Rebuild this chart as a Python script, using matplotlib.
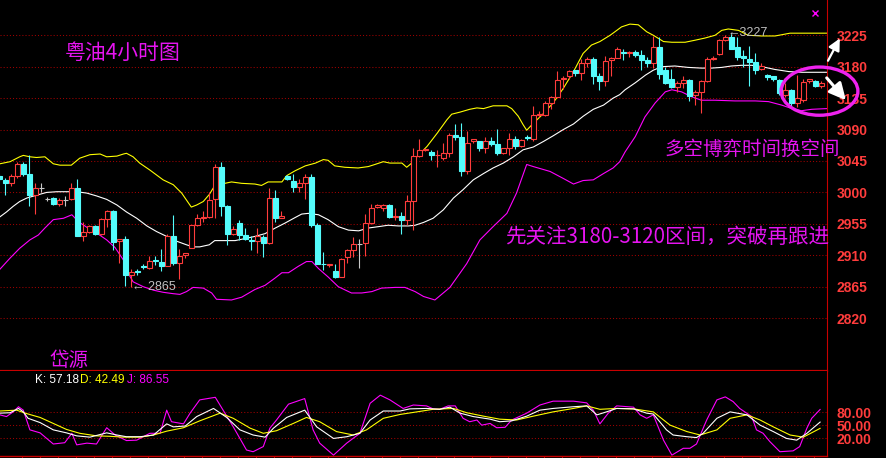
import numpy as np
import matplotlib
matplotlib.use('Agg')
import matplotlib.pyplot as plt
from matplotlib.patches import Ellipse
from matplotlib.ticker import FormatStrFormatter

# 4h candles (oldest -> newest)
opens = [3024, 3018, 3014, 3024, 3041, 3026, 2996, 3007, 2990, 2992,
         2983, 2989, 2990, 3007, 2938, 2944, 2952, 2941, 2962, 2974,
         2930, 2933, 2882, 2887, 2894, 2892, 2903, 2901, 2895, 2938,
         2899, 2910, 2921, 2953, 2964, 2965, 2990, 3037, 2980, 2941,
         2956, 2939, 2932, 2930, 2936, 2927, 2992, 2964, 3023, 3016,
         3008, 3014, 3022, 2953, 2898, 2896, 2888, 2879, 2907, 2917,
         2926, 2927, 2956, 2979, 2977, 2982, 2965, 2966, 2960, 2987,
         3052, 3061, 3058, 3053, 3049, 3057, 3082, 3079, 3031, 3073,
         3074, 3064, 3074, 3070, 3057, 3064, 3076, 3067, 3079, 3077,
         3111, 3111, 3128, 3136, 3162, 3166, 3175, 3171, 3186, 3191,
         3166, 3160, 3189, 3193, 3201, 3200, 3201, 3197, 3189, 3186,
         3208, 3175, 3162, 3151, 3156, 3161, 3139, 3144, 3159, 3191,
         3198, 3218, 3223, 3208, 3195, 3191, 3187, 3176, 3168, 3166,
         3161, 3139, 3146, 3128, 3133, 3159, 3160, 3152]
highs = [3026, 3020, 3027, 3044, 3044, 3053, 3013, 3014, 2994, 2993,
         2992, 2995, 3014, 3019, 2958, 2953, 2953, 2963, 2975, 2975,
         2934, 2937, 2891, 2891, 2898, 2909, 2909, 2919, 2941, 2968,
         2919, 2913, 2954, 2969, 2973, 3000, 3040, 3043, 2982, 2952,
         2961, 2949, 2937, 2949, 2939, 3007, 3003, 2973, 3025, 3026,
         3019, 3026, 3026, 2956, 2915, 2898, 2898, 2906, 2919, 2936,
         2933, 2969, 2983, 2983, 2983, 2983, 2977, 2972, 2996, 3063,
         3076, 3062, 3061, 3061, 3071, 3085, 3098, 3100, 3088, 3077,
         3074, 3079, 3080, 3091, 3064, 3085, 3081, 3076, 3082, 3124,
         3116, 3131, 3138, 3174, 3166, 3175, 3175, 3191, 3194, 3194,
         3171, 3195, 3194, 3208, 3205, 3203, 3204, 3204, 3194, 3224,
         3223, 3180, 3176, 3160, 3167, 3162, 3147, 3161, 3194, 3195,
         3219, 3225, 3227, 3223, 3204, 3210, 3199, 3185, 3170, 3167,
         3162, 3156, 3148, 3168, 3163, 3163, 3161, 3159]
lows = [3016, 2997, 3009, 3020, 3023, 2980, 2969, 3001, 2987, 2982,
        2980, 2981, 2989, 2937, 2930, 2942, 2939, 2939, 2950, 2918,
        2899, 2866, 2865, 2882, 2890, 2891, 2896, 2888, 2894, 2896,
        2876, 2906, 2920, 2952, 2958, 2963, 2964, 2966, 2925, 2939,
        2932, 2932, 2917, 2913, 2907, 2926, 2957, 2963, 3018, 3000,
        3001, 2991, 2950, 2897, 2889, 2893, 2878, 2879, 2899, 2907,
        2892, 2909, 2955, 2977, 2974, 2964, 2961, 2941, 2953, 2946,
        3051, 3060, 3046, 3037, 3047, 3051, 3075, 3024, 3027, 3071,
        3060, 3057, 3066, 3054, 3055, 3053, 3062, 3065, 3075, 3073,
        3108, 3109, 3120, 3136, 3148, 3163, 3166, 3161, 3180, 3155,
        3146, 3152, 3166, 3192, 3189, 3194, 3194, 3175, 3180, 3178,
        3163, 3155, 3150, 3144, 3150, 3131, 3125, 3113, 3158, 3189,
        3197, 3217, 3205, 3190, 3179, 3152, 3170, 3175, 3161, 3160,
        3139, 3136, 3123, 3123, 3130, 3157, 3151, 3150]
closes = [3019, 3014, 3023, 3041, 3026, 2996, 3007, 3007, 2990, 2983,
          2989, 2989, 3007, 2938, 2944, 2952, 2941, 2962, 2973, 2929,
          2933, 2882, 2886, 2886, 2893, 2902, 2902, 2895, 2938, 2899,
          2909, 2913, 2953, 2963, 2965, 2989, 3037, 2980, 2941, 2948,
          2939, 2933, 2931, 2937, 2927, 2992, 2964, 2966, 3019, 3008,
          3013, 3022, 2953, 2898, 2897, 2898, 2879, 2905, 2917, 2926,
          2926, 2956, 2977, 2982, 2982, 2965, 2966, 2960, 2987, 3052,
          3061, 3062, 3054, 3054, 3057, 3082, 3079, 3031, 3071, 3077,
          3064, 3073, 3070, 3057, 3063, 3076, 3066, 3075, 3078, 3111,
          3112, 3128, 3136, 3161, 3164, 3174, 3171, 3186, 3191, 3166,
          3160, 3188, 3192, 3205, 3200, 3201, 3197, 3189, 3185, 3208,
          3170, 3157, 3151, 3156, 3161, 3138, 3144, 3159, 3191, 3192,
          3218, 3223, 3206, 3194, 3192, 3187, 3175, 3181, 3165, 3162,
          3142, 3146, 3128, 3135, 3158, 3163, 3152, 3157]

# bollinger bands (x in candle index)
upper_x = [0.1, 1.8, 3.4, 4, 5.1, 6.2, 7.6, 9, 10.1, 12, 13.4, 15.1, 16.8, 17.9, 19.6,
           20.7, 21.2, 22.3, 23.4, 25.1, 27.3, 29, 30.4, 31.2, 32, 32.9, 34, 35, 35.5, 36.2,
           37.6, 38.7, 40.4, 42.6, 43.7, 44.8, 47.1, 47.9, 49.3, 51, 52.7, 54, 54.8, 55.9, 57.6,
           59.8, 61.5, 62.6, 64, 65.1, 67.1, 67.9, 68.6, 69.6, 71.3, 73, 74.6, 75.4, 76.8, 78.4,
           79.6, 80.7, 82.3, 84.6, 85.4, 86.5, 87.3, 87.9, 89, 90.7, 92.3, 94, 95.7, 97.3, 98.7,
           100.1, 101.8, 102.6, 103.7, 105.1, 106.5, 107.9, 109, 110.7, 112.1, 114.3, 116, 117.6,
           119.3, 120.4, 121.5, 123.2, 124.8, 127, 129.3, 131.8, 134.3, 137.9]
upper = [3041, 3044, 3051, 3053, 3051, 3050, 3051, 3041, 3039, 3039, 3049, 3054, 3055, 3051, 3052,
         3055, 3056, 3051, 3042, 3032, 3018, 3011, 2999, 2989, 2979, 2982, 2987, 2997, 3004, 3014,
         3013, 3015, 3013, 3012, 3010, 3015, 3015, 3024, 3031, 3038, 3042, 3047, 3046, 3038, 3036,
         3035, 3037, 3040, 3044, 3042, 3042, 3036, 3041, 3051, 3066, 3085, 3104, 3112, 3115, 3119,
         3121, 3120, 3124, 3124, 3120, 3109, 3097, 3089, 3099, 3113, 3128, 3149, 3173, 3199, 3211,
         3216, 3225, 3230, 3237, 3241, 3240, 3230, 3225, 3216, 3215, 3215, 3218, 3221,
         3225, 3232, 3234, 3232, 3225, 3224, 3224, 3228, 3228, 3228]
mid_x = [0.1, 1.2, 2.3, 3.4, 4.6, 6.2, 7.9, 9.6, 11.2, 12.9, 14.6, 16.2, 17.9, 19.6, 21.2,
         22.9, 24.6, 26.2, 27.9, 29.6, 31.2, 32.3, 33.4, 35, 35.9, 37.6, 39.3, 41, 42.6, 44.3,
         46, 47.6, 49.3, 50.4, 51.5, 53.2, 54.8, 56.5, 58.2, 59.9, 61.5, 63.2, 64.8, 66.5, 68.2,
         69.3, 70.7, 72.3, 74, 75.7, 77.3, 79, 80.7, 82.3, 84, 85.7, 87.3, 89, 90.7, 92.3,
         94, 95.7, 97.3, 99, 100.7, 102.3, 103.4, 104.3, 106, 107.7, 109, 110.4, 112.6, 114.8, 117,
         118.7, 120.4, 122, 123.7, 125.4, 127.1, 129.3, 131.6, 133.8, 137.9]
mid = [2965, 2972, 2980, 2987, 2992, 2996, 3000, 3001, 3001, 3001, 2999, 2995, 2990, 2982, 2972,
       2963, 2952, 2944, 2937, 2930, 2925, 2922, 2922, 2925, 2931, 2931, 2931, 2934, 2937, 2941,
       2949, 2956, 2964, 2969, 2970, 2968, 2961, 2951, 2946, 2945, 2949, 2951, 2953, 2952, 2952,
       2953, 2957, 2963, 2975, 2992, 3004, 3018, 3027, 3035, 3042, 3051, 3061, 3065, 3073, 3081,
       3090, 3098, 3109, 3119, 3125, 3135, 3140, 3147, 3157, 3168, 3175, 3180, 3181, 3179, 3178,
       3178, 3179, 3181, 3182, 3182, 3180, 3176, 3173, 3172, 3172]
lower_x = [0.1, 1.8, 3.4, 5.1, 6.5, 7.6, 9, 10.7, 12.1, 13.2, 14.6, 16.2, 17.9, 19.3, 20.7,
           21.5, 22.3, 24, 25.7, 27.3, 29, 30.1, 31.2, 32.3, 34, 34.8, 35.4, 36.2, 38.7, 40.4,
           42.6, 44.3, 45.9, 47.1, 48.2, 49.8, 51.2, 52.1, 53.2, 54.8, 56.5, 58.7, 60.4, 62.1, 63.7,
           66, 67.6, 69.3, 70.7, 72.6, 75.1, 77.9, 80.1, 82.3, 84.6, 86.2, 87.9, 89, 91.8, 94,
           95.7, 97.3, 99, 100.7, 102.3, 103.4, 104.3, 106, 107.6, 109.3, 111, 112.1, 113.7, 115.4, 117,
           119.3, 122.6, 126, 128.2, 130.4, 132.1, 133.7, 135.4, 137.9]
lower = [2890, 2906, 2920, 2932, 2939, 2949, 2961, 2963, 2968, 2958, 2950, 2942, 2932, 2921, 2903,
         2884, 2872, 2865, 2860, 2857, 2855, 2854, 2858, 2864, 2863, 2859, 2856, 2847, 2846, 2850,
         2861, 2867, 2877, 2885, 2885, 2894, 2901, 2901, 2891, 2879, 2865, 2856, 2856, 2858, 2863,
         2864, 2864, 2858, 2851, 2846, 2864, 2898, 2932, 2951, 2970, 2999, 3040, 3037, 3030, 3020,
         3012, 3017, 3018, 3027, 3035, 3044, 3058, 3080, 3108, 3128, 3144, 3147, 3144, 3137, 3132,
         3132, 3131, 3131, 3130, 3125, 3120, 3117, 3119, 3120]

# KDJ
k_x = [0.1, 1.8, 3.2, 4, 4.8, 6.8, 9, 11.2, 12.9, 15.1, 17.9, 19.6, 21.2, 23.5, 25.7,
       27.9, 29, 31, 32.9, 35.7, 37.9, 40.1, 42.3, 44.3, 45.7, 47.9, 50.9, 52.9, 55.7, 57.9,
       60.1, 61.8, 64, 66.8, 68.4, 71.2, 73.4, 75.1, 76.8, 79, 81.8, 83.4, 85.4, 87.9, 90.1,
       92.3, 95.7, 97.9, 99.6, 101.2, 102.9, 105.7, 107.9, 109, 111.2, 112.3, 114.6, 116.2, 117.3,
       119.6, 121.8, 124.6, 126.8, 129, 131.2, 132.9, 134.6, 136.8]
k_vals = [78, 79, 89, 81, 66, 56, 39, 32, 25, 22, 32, 27, 23, 23, 27,
          53, 46, 48, 70, 89, 68, 39, 27, 22, 43, 68, 85, 46, 19, 23,
          31, 62, 83, 83, 88, 89, 87, 92, 78, 70, 64, 58, 60, 71, 85,
          89, 93, 95, 74, 81, 89, 88, 78, 76, 39, 27, 23, 21, 31,
          66, 81, 74, 50, 35, 19, 15, 31, 57.18]
d_x = [0.1, 2.9, 4.3, 6.8, 9, 11.2, 13.4, 16.2, 18.4, 20.7, 23.5, 25.7, 27.9, 30.7, 33.4,
       36.8, 39, 41.8, 44, 46.2, 49, 51.2, 53.4, 56.2, 59, 61.2, 64, 66.8, 69.6, 72.3,
       75.7, 77.9, 80.7, 83.4, 86.2, 89, 92.3, 95.7, 97.9, 100.1, 102.9, 105.7, 109, 111.8, 114.6,
       116.8, 119.6, 121.8, 124.6, 126.8, 129, 131.8, 134, 136.8]
d_vals = [83, 85, 78, 68, 54, 40, 31, 25, 24, 22, 22, 27, 36, 44, 60,
          78, 66, 43, 31, 37, 54, 68, 58, 35, 27, 39, 66, 75, 81, 87,
          89, 79, 71, 64, 62, 71, 81, 89, 95, 87, 89, 88, 81, 50, 35,
          27, 39, 66, 74, 62, 46, 27, 22, 42.49]
j_x = [0.1, 1.2, 2.3, 3.2, 4, 5.1, 6.8, 9, 10.9, 12.1, 12.9, 14.6, 16.2, 17.9, 19.3,
       21.2, 22.9, 25.1, 26.8, 27.9, 28.7, 30.7, 31.8, 33.4, 36, 39, 41.2, 42.3, 44, 45.1,
       46.2, 48.2, 50.9, 52.3, 53.4, 55.7, 57.9, 60.1, 61.8, 63.5, 65.1, 67.3, 69, 71.2, 72.3,
       73.4, 74.8, 76, 77.3, 78.4, 79.6, 80.4, 81.8, 82.9, 84.3, 85.4, 87.9, 90.1, 92.3, 95.7,
       97.9, 99, 100.1, 101.5, 102.9, 105.7, 106.8, 107.9, 109, 110.7, 112.1, 114, 115.1, 116.2, 117.9,
       119.6, 121, 122.3, 123.4, 125.4, 126.2, 127.3, 128.4, 130.1, 132.3, 133.4, 134.6, 135.4, 136.8]
j_vals = [74, 70, 81, 93, 85, 39, 32, 6, 9, 31, 4, 8, 6, 44, 27,
          14, 15, 31, 31, 85, 58, 53, 78, 109, 115, 46, -8, -12, 0, 43,
          62, 99, 112, 39, 8, -20, 8, 31, 101, 120, 109, 89, 97, 95, 88,
          87, 95, 95, 66, 58, 62, 50, 54, 44, 45, 62, 78, 97, 106, 106,
          102, 85, 53, 78, 95, 92, 74, 66, 74, 15, -20, -4, -4, 6, 62,
          109, 116, 105, 89, 70, 39, 31, 12, -12, -10, 0, 43, 66, 86.55]

price_levels = [2820, 2865, 2910, 2955, 3000, 3045, 3090, 3135, 3180, 3225]
kdj_levels = [20, 50, 80]

RED = '#ff3c3c'
CYAN = '#54fcfc'
GRAY = '#c8c8c8'
GRID = '#a00000'
AXIS = '#c80000'
MAG = '#ff00ff'
TXT = '#e614f0'
CJK = ['Noto Sans CJK SC', 'DejaVu Sans']

W, H = 887, 458
fig = plt.figure(figsize=(W / 100, H / 100), dpi=100, facecolor='black')
ax = fig.add_axes([0, (H - 371) / H, 827 / W, 371 / H], facecolor='black')
kx = fig.add_axes([0, (H - 456) / H, 827 / W, 85 / H], facecolor='black')

o = np.array(opens, float)
h = np.array(highs, float)
l = np.array(lows, float)
c = np.array(closes, float)
idx = np.arange(len(o))
up = c > o
dn = c < o
flat = c == o
bw = 0.75

# bands
ax.plot(upper_x, upper, color='#ffff00', lw=0.8, zorder=2)
ax.plot(mid_x, mid, color='white', lw=0.8, zorder=2)
ax.plot(lower_x, lower, color=MAG, lw=0.8, zorder=2)

# candles
ax.vlines(idx[up], l[up], h[up], color=RED, lw=0.8, zorder=3)
ax.bar(idx[up], np.maximum(c[up] - o[up], 1.0), bottom=o[up], width=bw,
       facecolor='black', edgecolor=RED, lw=0.8, zorder=4)
ax.vlines(idx[dn], l[dn], h[dn], color=CYAN, lw=0.8, zorder=3)
ax.bar(idx[dn], np.maximum(o[dn] - c[dn], 1.0), bottom=c[dn], width=bw,
       facecolor=CYAN, edgecolor=CYAN, lw=0.8, zorder=4)
ax.vlines(idx[flat], l[flat], h[flat], color=GRAY, lw=0.8, zorder=3)
ax.hlines(o[flat], idx[flat] - bw / 2, idx[flat] + bw / 2, color=GRAY, lw=0.8, zorder=4)

xlim = (0.117, 137.95)
ax.set_xlim(*xlim)
ax.set_ylim(2744.3, 3275.5)
ax.set_xticks([])
ax.yaxis.tick_right()
ax.set_yticks(price_levels)
ax.tick_params(axis='y', length=0, pad=7.2, labelcolor=RED, labelsize=10)
for lb in ax.get_yticklabels():
    lb.set_fontfamily('Liberation Sans')
    lb.set_fontweight('bold')
ax.yaxis.grid(True, color=GRID, linestyle=(0, (1, 2)), lw=0.75)
ax.set_axisbelow(True)
for s in ['top', 'left']:
    ax.spines[s].set_visible(False)
ax.spines['right'].set_color(AXIS)
ax.spines['right'].set_linewidth(0.8)
ax.spines['bottom'].set_color(AXIS)
ax.spines['bottom'].set_linewidth(1.6)

# KDJ panel
kx.plot(j_x, j_vals, color=MAG, lw=0.8)
kx.plot(d_x, d_vals, color='#ffff00', lw=0.8)
kx.plot(k_x, k_vals, color='white', lw=0.8)
kx.set_xlim(*xlim)
kx.set_ylim(-22, 176.4)
kx.yaxis.tick_right()
kx.set_yticks(kdj_levels)
kx.yaxis.set_major_formatter(FormatStrFormatter('%.2f'))
kx.tick_params(axis='y', length=0, pad=7.2, labelcolor=RED, labelsize=10)
for lb in kx.get_yticklabels():
    lb.set_fontfamily('Liberation Sans')
    lb.set_fontweight('bold')
kx.set_xticks(np.arange(3.75, 138, 3))
kx.tick_params(axis='x', length=3, direction='out', color=AXIS, labelbottom=False)
kx.yaxis.grid(True, color=GRID, linestyle=(0, (1, 2)), lw=0.75)
kx.set_axisbelow(True)
for s in ['top', 'left']:
    kx.spines[s].set_visible(False)
kx.spines['right'].set_color(AXIS)
kx.spines['right'].set_linewidth(0.8)
kx.spines['bottom'].set_color(AXIS)
kx.spines['bottom'].set_linewidth(1.0)

# high / low markers
lo_i = int(np.argmin(l))
hi_i = int(np.argmax(h))
ax.text(lo_i + 0.1, l[lo_i], '\u2190 %d' % l[lo_i], color='#c0c0c0', fontsize=9,
        family=['Liberation Sans', 'DejaVu Sans'], va='center', ha='left', zorder=6)
ax.text(hi_i - 0.7, h[hi_i] + 1, '\u2190%d' % h[hi_i], color='#c0c0c0', fontsize=9,
        family=['Liberation Sans', 'DejaVu Sans'], va='center', ha='left', zorder=6)

# annotations
fig.text(65 / W, 1 - 53 / H, '粤油4小时图', color=TXT, fontsize=15, family=CJK,
         ha='left', va='center')
fig.text(665 / W, 1 - 149 / H, '多空博弈时间换空间', color=TXT, fontsize=14, family=CJK,
         ha='left', va='center')
fig.text(505 / W, 1 - 237 / H, '先关注3180-3120区间，突破再跟进', color=TXT, fontsize=14.8,
         family=CJK, ha='left', va='center')
fig.text(50 / W, 1 - 361 / H, '岱源', color=TXT, fontsize=14, family=CJK,
         ha='left', va='center')
fig.text(35 / W, 1 - 380 / H, 'K: %.2f' % k_vals[-1], color='white', fontsize=8.5,
         family='Liberation Sans', ha='left', va='center')
fig.text(80 / W, 1 - 380 / H, 'D: %.2f' % d_vals[-1], color='#ffff00', fontsize=8.5,
         family='Liberation Sans', ha='left', va='center')
fig.text(127 / W, 1 - 380 / H, 'J: %.2f' % j_vals[-1], color=MAG, fontsize=8.5,
         family='Liberation Sans', ha='left', va='center')

ell = Ellipse((136.7, 3145), width=12.8, height=69, fill=False, edgecolor='#ee22ee',
              lw=2.4, clip_on=False, zorder=7)
ax.add_patch(ell)
ax.annotate('', xy=(140.3, 3224), xytext=(137.9, 3185), annotation_clip=False,
            arrowprops=dict(arrowstyle='-|>,head_length=0.7,head_width=0.35',
                            color='white', lw=1.6), zorder=8)
ax.annotate('', xy=(141.4, 3129), xytext=(137.6, 3167), annotation_clip=False,
            arrowprops=dict(arrowstyle='-|>,head_length=1.0,head_width=0.5',
                            color='white', lw=2.2), zorder=8)
ax.plot([135.9], [3257.4], marker='x', color=MAG, ms=4, mew=1, clip_on=False, zorder=7)

fig.savefig('out.png', dpi=100, facecolor='black')
